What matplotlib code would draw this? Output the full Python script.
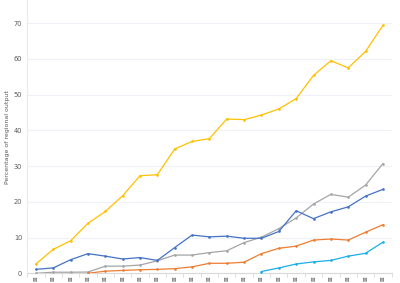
import matplotlib
matplotlib.use("Agg")
import matplotlib.pyplot as plt
import numpy as np

categories = ["⊠"] * 21

yellow = [2.6, 6.7, 9.1, 14.0, 17.3, 21.7, 27.3, 27.6, 34.8, 36.9, 37.7,
          43.2, 43.0, 44.3, 46.0, 48.9, 55.4, 59.5, 57.5, 62.1, 69.4]
blue = [1.1, 1.5, 3.8, 5.5, 4.8, 4.0, 4.4, 3.6, 7.2, 10.7, 10.2,
        10.4, 9.8, 9.8, 11.7, 17.5, 15.3, 17.2, 18.6, 21.6, 23.5]
gray = [0.0, 0.3, 0.3, 0.35, 2.0, 2.0, 2.3, 3.5, 5.1, 5.1, 5.8,
        6.3, 8.6, 10.1, 12.5, 15.5, 19.4, 22.1, 21.3, 24.7, 30.7]
orange = [None, None, None, 0.0, 0.6, 0.8, 1.0, 1.1, 1.3, 1.8, 2.8,
          2.8, 3.1, 5.5, 7.0, 7.6, 9.3, 9.6, 9.3, 11.5, 13.6]
lightblue = [None] * 13 + [0.5, 1.5, 2.6, 3.2, 3.6, 4.8, 5.6, 8.7]

y_label = "Percentage of regional output"
y_ticks = [0, 10, 20, 30, 40, 50, 60, 70]

fig = plt.figure(figsize=(4, 2.83), dpi=100)
ax = fig.add_axes([0.068, 0.0343, 0.911, 0.9657])

x = np.arange(len(categories))

def arr(v):
    return np.array([np.nan if a is None else a for a in v], dtype=float)

series = [(yellow, "#FFC000"), (gray, "#A5A5A5"), (blue, "#4472C4"),
          (orange, "#ED7D31"), (lightblue, "#1AAEEB")]
for vals, col in series:
    ax.plot(x, arr(vals), color=col, lw=0.9, marker="o", ms=0.9,
            mec=col, mfc=col, zorder=3)

ax.set_xlim(-0.5, len(categories) - 0.5)
ax.set_ylim(0, 76.5)
ax.set_yticks(y_ticks)
ax.set_yticklabels([str(t) for t in y_ticks], fontsize=4.8, color="#595959")
ax.set_xticks(x)
ax.set_xticklabels(categories, fontsize=4.0, color="#595959", rotation=90)
ax.set_xticks(np.arange(-0.5, len(categories), 1), minor=True)
ax.tick_params(axis="x", which="major", length=0, pad=2)
ax.tick_params(axis="x", which="minor", length=3, color="#D9D9D9", width=0.6)
ax.tick_params(axis="y", length=0, pad=3.6)
ax.grid(axis="y", color="#EEF2F8", lw=0.8, zorder=0)
for s in ["top", "right"]:
    ax.spines[s].set_visible(False)
ax.spines["left"].set_color("#E8ECF2")
ax.spines["left"].set_linewidth(0.8)
ax.spines["bottom"].set_color("#D9D9D9")
ax.spines["bottom"].set_linewidth(0.8)
ax.set_ylabel(y_label, fontsize=4.5, color="#595959", labelpad=2.5)

fig.savefig("out.png", dpi=100)
